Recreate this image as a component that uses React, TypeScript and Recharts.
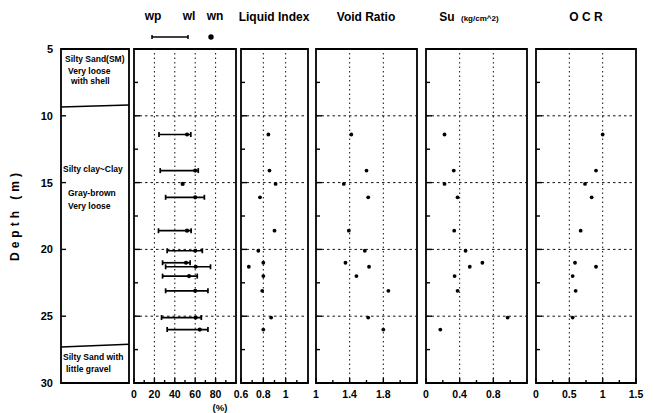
import React from "react";
import {
  ScatterChart,
  Scatter,
  XAxis,
  YAxis,
  ErrorBar,
  ReferenceLine,
  ReferenceArea,
} from "recharts";

// sample depths (m), shared by all test columns
const depths = [11.4, 14.1, 15.1, 16.1, 18.6, 20.1, 21.0, 21.3, 22.0, 23.1, 25.1, 26.0];

// water content (%)
const wpValues = [24.5, 25.7, null, 31, 24, 32.5, 28, 31, 28, 31, 27, 32.5];
const wlValues = [55.7, 63, null, 69, 56, 67, 55, 75, 62, 72.5, 66, 72.5];
const wnValues = [52, 60, 47.7, 60, 52, 60, 51, 60.5, 54, 60, 60.5, 64.5];

const liquidIndex = [0.845, 0.855, 0.91, 0.77, 0.9, 0.755, 0.8, 0.67, 0.8, 0.79, 0.87, 0.8];
const voidRatio = [1.42, 1.6, 1.33, 1.62, 1.39, 1.58, 1.35, 1.63, 1.48, 1.86, 1.62, 1.8];
const suValues = [0.22, 0.33, 0.22, 0.375, 0.335, 0.47, 0.67, 0.52, 0.34, 0.375, 0.97, 0.17];
const ocrValues = [1.0, 0.9, 0.735, 0.835, 0.67, null, 0.585, 0.9, 0.55, 0.595, 0.55, null];

// depth axis
const depthTicks = [5, 7.5, 10, 12.5, 15, 17.5, 20, 22.5, 25, 27.5, 30];
const depthLabels = [5, 10, 15, 20, 25, 30];
const depthGrid = [10, 15, 20, 25];

// soil layer boundaries (depth at left / right side of the log)
const boundaryLeft = [9.35, 27.3];
const boundaryRight = [9.2, 27.1];

// x axes
const waterTicks = [0, 10, 20, 30, 40, 50, 60, 70, 80, 90, 100];
const waterLabels = [0, 20, 40, 60, 80];
const waterGrid = [20, 40, 60, 80];

const liTicks = [0.6, 0.7, 0.8, 0.9, 1.0, 1.1, 1.2];
const liLabels = [0.6, 0.8, 1];
const liGrid = [0.8, 1];

const vrTicks = [1, 1.2, 1.4, 1.6, 1.8, 2.0, 2.2];
const vrLabels = [1, 1.4, 1.8];
const vrGrid = [1.4, 1.8];

const suTicks = [0, 0.2, 0.4, 0.6, 0.8, 1.0, 1.2];
const suLabels = [0, 0.4, 0.8];
const suGrid = [0.4, 0.8];

const ocrTicks = [0, 0.25, 0.5, 0.75, 1, 1.25, 1.5];
const ocrLabels = [0, 0.5, 1, 1.5];
const ocrGrid = [0.5, 1];

const FONT = '"Liberation Sans", Arial, Helvetica, sans-serif';
const CHART_TOP = 40;
const CHART_H = 371;
const PAD = 12;

const has = (list: number[], v: number) => list.some((t) => Math.abs(t - v) < 1e-9);

function XTick(props: any) {
  const { x, y, payload, labels } = props;
  const v = payload.value;
  const major = has(labels, v);
  return (
    <g>
      <line x1={x} x2={x} y1={y} y2={y - (major ? 5 : 3)} stroke="#000" strokeWidth={1.4} />
      {major && (
        <text x={x} y={y + 15} textAnchor="middle" fontSize={10.5} fontWeight="bold" fontFamily={FONT} fill="#000">
          {String(v)}
        </text>
      )}
    </g>
  );
}

function YTick(props: any) {
  const { x, y, payload, showLabel } = props;
  const v = payload.value;
  const major = has(depthLabels, v);
  if (showLabel) {
    return (
      <g>
        {major && <line x1={x} x2={x + 5} y1={y} y2={y} stroke="#000" strokeWidth={1.4} />}
        <text x={x - 8} y={y + 4} textAnchor="end" fontSize={11} fontWeight="bold" fontFamily={FONT} fill="#000">
          {String(v)}
        </text>
      </g>
    );
  }
  return <line x1={x} x2={x + (major ? 6 : 4)} y1={y} y2={y} stroke="#000" strokeWidth={1.4} />;
}

const dot = (r: number) => (p: any) => <circle cx={p.cx} cy={p.cy} r={r} fill="#000" />;
const blank = () => <g />;

type PanelSpec = {
  left: number;
  width: number;
  domain: [number, number];
  ticks: number[];
  labels: number[];
  grid: number[];
  values?: (number | null)[];
};

function Panel({ spec, children }: { spec: PanelSpec; children?: React.ReactNode }) {
  const points = spec.values
    ? depths
        .map((d, i) => ({ depth: d, x: spec.values![i] }))
        .filter((p) => p.x != null)
    : [];
  return (
    <div style={{ position: "absolute", left: spec.left - PAD, top: CHART_TOP }}>
      <ScatterChart
        width={spec.width + 2 * PAD}
        height={CHART_H}
        margin={{ top: 9, right: PAD, bottom: 0, left: PAD - 1 }}
      >
        <XAxis
          type="number"
          dataKey="x"
          domain={spec.domain}
          ticks={spec.ticks}
          interval={0}
          allowDataOverflow
          height={28}
          tickSize={0}
          tickMargin={0}
          axisLine={false}
          tickLine={false}
          tick={(p: any) => <XTick {...p} labels={spec.labels} />}
        />
        <YAxis
          type="number"
          dataKey="depth"
          domain={[5, 30]}
          reversed
          ticks={depthTicks}
          interval={0}
          allowDataOverflow
          width={1}
          tickSize={0}
          tickMargin={0}
          axisLine={false}
          tickLine={false}
          tick={(p: any) => <YTick {...p} />}
        />
        {spec.grid.map((v) => (
          <ReferenceLine key={`gx${v}`} x={v} stroke="#111" strokeDasharray="1.5 3" strokeWidth={1} />
        ))}
        {depthGrid.map((d) => (
          <ReferenceLine key={`gy${d}`} y={d} stroke="#111" strokeDasharray="2.5 3" strokeWidth={1} />
        ))}
        <ReferenceArea
          x1={spec.domain[0]}
          x2={spec.domain[1]}
          y1={5}
          y2={30}
          fill="none"
          fillOpacity={0}
          stroke="#000"
          strokeWidth={1.8}
          ifOverflow="visible"
        />
        {spec.values && (
          <Scatter data={points} fill="#000" shape={dot(1.9)} isAnimationActive={false} />
        )}
        {children}
      </ScatterChart>
    </div>
  );
}

function SoilLog() {
  const anchors = boundaryLeft.map((d) => ({ x: 0, depth: d }));
  return (
    <div style={{ position: "absolute", left: 0, top: CHART_TOP }}>
      <ScatterChart width={61 + 68 + 4} height={CHART_H} margin={{ top: 9, right: 4, bottom: 0, left: 0 }}>
        <XAxis
          type="number"
          dataKey="x"
          domain={[0, 1]}
          ticks={[0, 1]}
          height={28}
          axisLine={false}
          tickLine={false}
          tick={false}
        />
        <YAxis
          type="number"
          dataKey="depth"
          domain={[5, 30]}
          reversed
          ticks={depthLabels}
          interval={0}
          width={61}
          tickSize={0}
          tickMargin={0}
          axisLine={false}
          tickLine={false}
          tick={(p: any) => <YTick {...p} showLabel />}
        />
        <ReferenceArea
          x1={0}
          x2={1}
          y1={5}
          y2={30}
          fill="none"
          fillOpacity={0}
          stroke="#000"
          strokeWidth={1.8}
          ifOverflow="visible"
        />
        {boundaryLeft.map((d, i) => (
          <ReferenceLine
            key={`b${i}`}
            segment={[
              { x: 0, y: d },
              { x: 1, y: boundaryRight[i] },
            ]}
            stroke="#000"
            strokeWidth={1.5}
            ifOverflow="visible"
          />
        ))}
        <Scatter data={anchors} shape={blank} isAnimationActive={false} />
      </ScatterChart>
    </div>
  );
}

export default function App() {
  const rangeData = depths
    .map((d, i) => ({
      depth: d,
      x: wpValues[i],
      range:
        wpValues[i] != null && wlValues[i] != null
          ? [0, (wlValues[i] as number) - (wpValues[i] as number)]
          : null,
    }))
    .filter((p) => p.x != null);
  const wnData = depths.map((d, i) => ({ depth: d, x: wnValues[i] }));

  const soilText = { fontSize: 8.5, fontWeight: "bold" as const };

  return (
    <div
      style={{
        position: "absolute",
        left: 0,
        top: 0,
        width: 654,
        height: 413,
        background: "#fff",
        fontFamily: FONT,
        overflow: "hidden",
      }}
    >
      <SoilLog />
      <Panel
        spec={{ left: 134, width: 102, domain: [0, 100], ticks: waterTicks, labels: waterLabels, grid: waterGrid }}
      >
        <Scatter data={rangeData} shape={blank} isAnimationActive={false}>
          <ErrorBar dataKey="range" direction="x" width={2.5} stroke="#000" strokeWidth={1.7} />
        </Scatter>
        <Scatter data={wnData} fill="#000" shape={dot(2.1)} isAnimationActive={false} />
      </Panel>
      <Panel
        spec={{ left: 241, width: 67, domain: [0.6, 1.2], ticks: liTicks, labels: liLabels, grid: liGrid, values: liquidIndex }}
      />
      <Panel
        spec={{ left: 316, width: 101, domain: [1, 2.2], ticks: vrTicks, labels: vrLabels, grid: vrGrid, values: voidRatio }}
      />
      <Panel
        spec={{ left: 426, width: 101, domain: [0, 1.2], ticks: suTicks, labels: suLabels, grid: suGrid, values: suValues }}
      />
      <Panel
        spec={{ left: 536, width: 100, domain: [0, 1.5], ticks: ocrTicks, labels: ocrLabels, grid: ocrGrid, values: ocrValues }}
      />

      <svg
        width={654}
        height={413}
        style={{ position: "absolute", left: 0, top: 0, pointerEvents: "none" }}
        fontFamily={FONT}
        fontWeight="bold"
        fill="#000"
      >
        <text x={153} y={20} textAnchor="middle" fontSize={12}>wp</text>
        <text x={189} y={20} textAnchor="middle" fontSize={12}>wl</text>
        <text x={215} y={20} textAnchor="middle" fontSize={12}>wn</text>
        <line x1={152} x2={188} y1={37} y2={37} stroke="#000" strokeWidth={1.5} />
        <line x1={152} x2={152} y1={35} y2={39} stroke="#000" strokeWidth={1.5} />
        <line x1={188} x2={188} y1={35} y2={39} stroke="#000" strokeWidth={1.5} />
        <circle cx={211} cy={37} r={2.7} fill="#000" />

        <text x={274} y={21} textAnchor="middle" fontSize={12}>Liquid Index</text>
        <text x={366} y={21} textAnchor="middle" fontSize={12}>Void Ratio</text>
        <text x={447} y={21} textAnchor="middle" fontSize={12}>Su</text>
        <text x={461} y={21} fontSize={8}>(kg/cm^2)</text>
        <text x={586} y={21} textAnchor="middle" fontSize={12}>O C R</text>

        <text
          x={19}
          y={215}
          textAnchor="middle"
          fontSize={12}
          letterSpacing={4}
          transform="rotate(-90 19 215)"
        >
          Depth (m)
        </text>

        <text x={65} y={62} {...soilText}>Silty Sand(SM)</text>
        <text x={68} y={74} {...soilText}>Very loose</text>
        <text x={71} y={84} {...soilText}>with shell</text>

        <text x={63} y={172} {...soilText}>Silty clay~Clay</text>
        <text x={68} y={196} {...soilText}>Gray-brown</text>
        <text x={68} y={209} {...soilText}>Very loose</text>

        <text x={63} y={360} {...soilText}>Silty Sand with</text>
        <text x={66} y={372} {...soilText}>little gravel</text>

        <text x={220} y={411} textAnchor="middle" fontSize={9.5}>(%)</text>
      </svg>
    </div>
  );
}
